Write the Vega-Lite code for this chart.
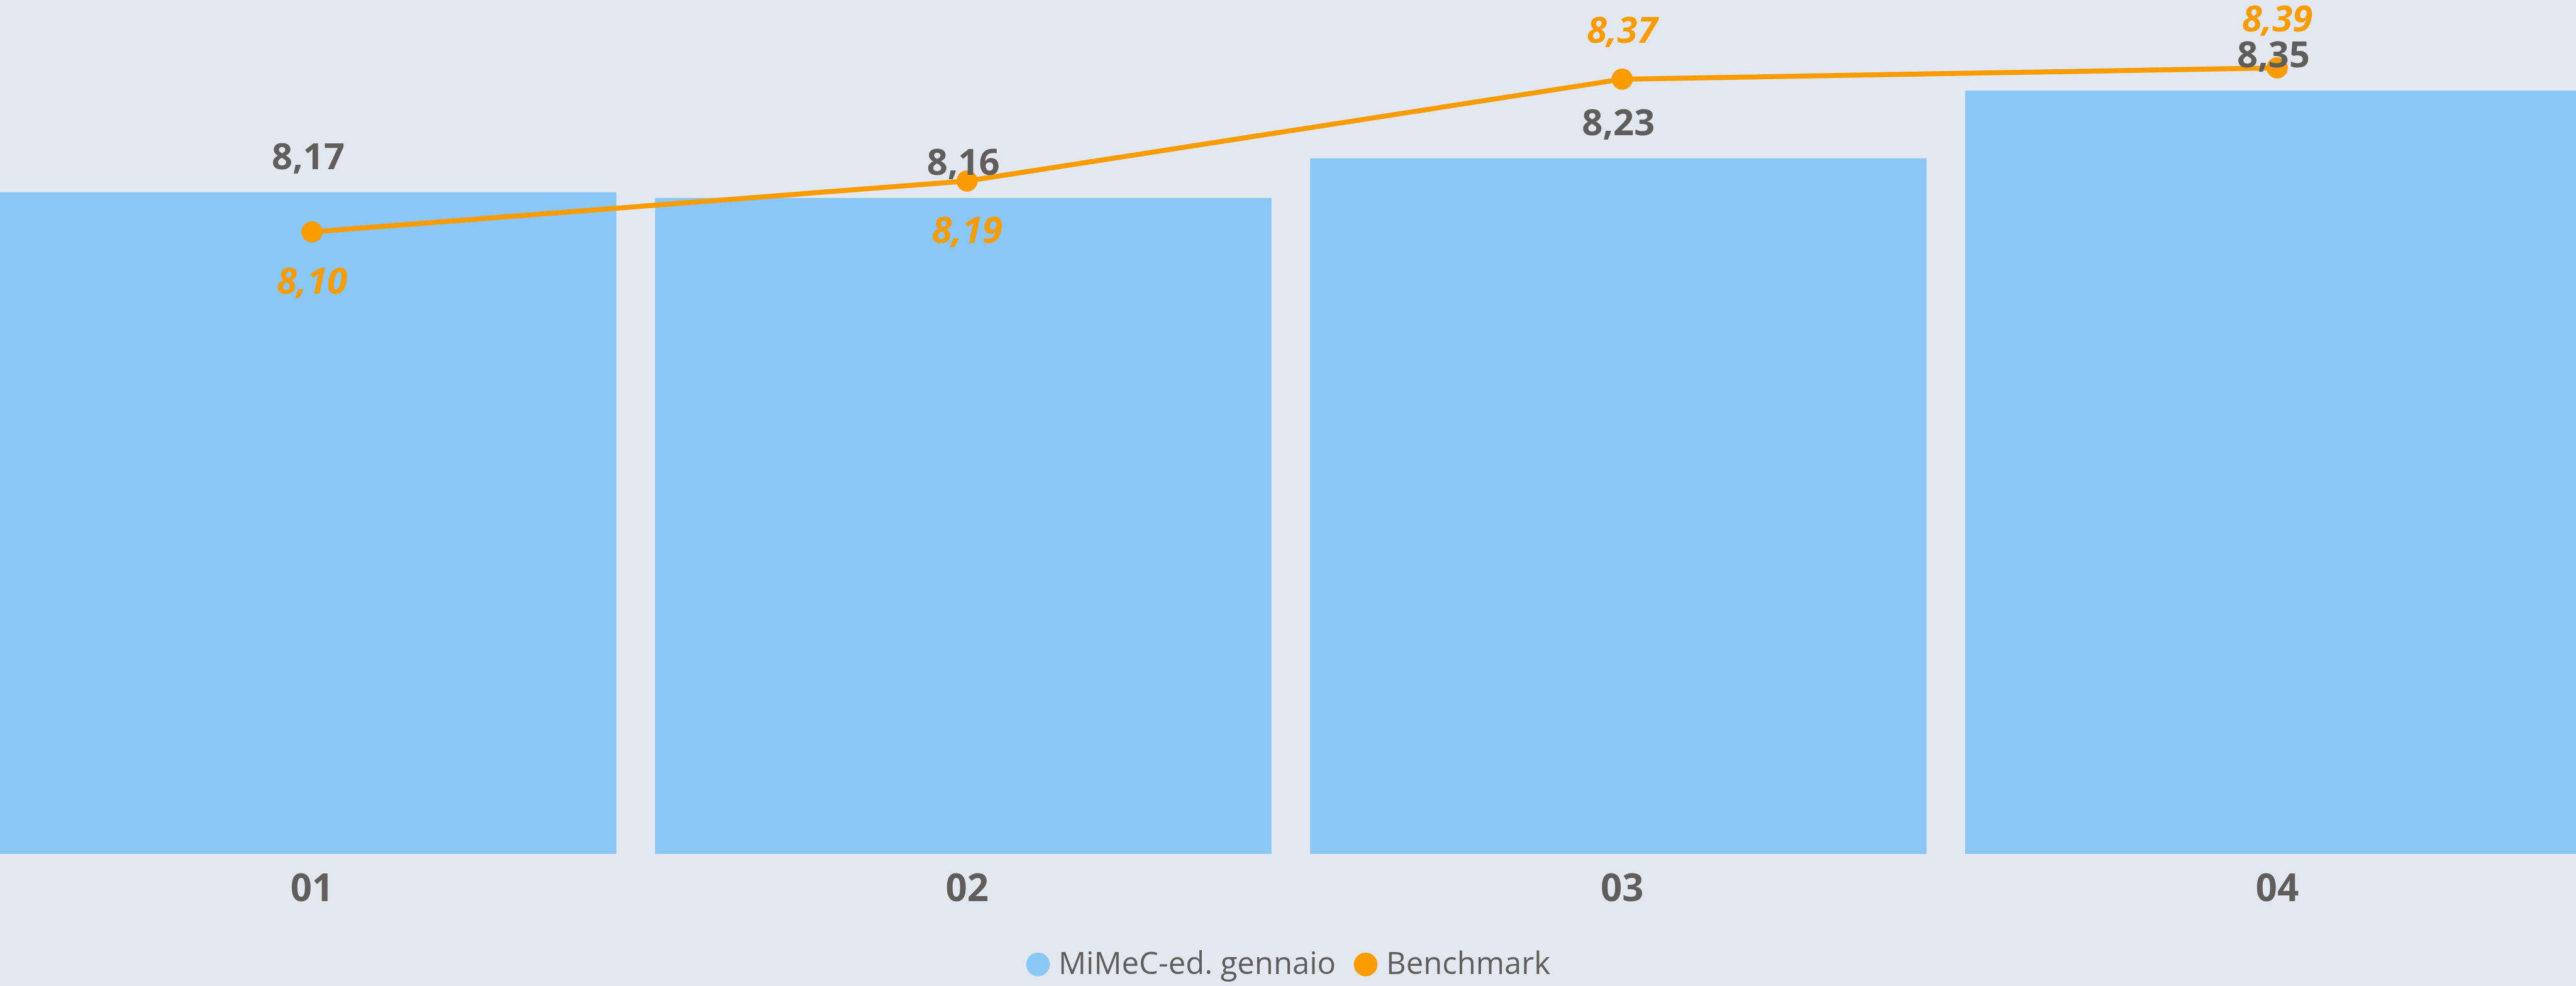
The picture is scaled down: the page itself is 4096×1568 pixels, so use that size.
{
  "$schema": "https://vega.github.io/schema/vega-lite/v6.json",
  "width": 4096,
  "height": 1358,
  "autosize": {"type": "none"},
  "padding": {"left": 0, "right": 0, "top": 0, "bottom": 210},
  "background": "#e3e8f0",
  "config": {
    "view": {"stroke": null},
    "font": "Open Sans",
    "locale": {"number": {"decimal": ",", "thousands": ".", "grouping": [3], "currency": ["", " €"]}}
  },
  "data": {
    "values": [
      {"month": "01", "value": 8.17, "benchmark": 8.10},
      {"month": "02", "value": 8.16, "benchmark": 8.19},
      {"month": "03", "value": 8.23, "benchmark": 8.37},
      {"month": "04", "value": 8.35, "benchmark": 8.39}
    ]
  },
  "encoding": {
    "x": {
      "field": "month",
      "type": "nominal",
      "sort": null,
      "scale": {"range": [0, 4105], "paddingInner": 0.059, "paddingOuter": 0},
      "axis": {
        "title": null,
        "labelAngle": 0,
        "domain": false,
        "ticks": false,
        "grid": false,
        "labelFont": "Open Sans",
        "labelFontSize": 60,
        "labelFontWeight": "bold",
        "labelColor": "#605E5C",
        "labelPadding": 27,
        "labelOffset": 6,
        "labelBaseline": "top",
        "labelOverlap": false,
        "zindex": 1
      }
    }
  },
  "layer": [
    {
      "mark": {"type": "bar"},
      "encoding": {
        "y": {"field": "value", "type": "quantitative", "scale": {"domain": [7, 8.51], "nice": false, "zero": false}, "axis": null},
        "y2": {"datum": 7},
        "color": {
          "datum": "MiMeC-ed. gennaio",
          "type": "nominal",
          "scale": {"domain": ["MiMeC-ed. gennaio", "Benchmark"], "range": ["#8AC6F6", "#FA9C00"]},
          "legend": {
            "orient": "none",
            "legendX": 1626,
            "legendY": 1509,
            "direction": "horizontal",
            "title": null,
            "symbolType": "circle",
            "symbolSize": 1420,
            "symbolStrokeWidth": 0,
            "symbolOpacity": 1,
            "labelFont": "Open Sans",
            "labelFontSize": 49,
            "labelColor": "#605E5C",
            "labelOffset": 8,
            "labelLimit": 2000,
            "columnPadding": 22
          }
        }
      }
    },
    {
      "mark": {"type": "line", "color": "#FA9C00", "strokeWidth": 8, "xOffset": 6},
      "encoding": {
        "y": {"field": "benchmark", "type": "quantitative"}
      }
    },
    {
      "mark": {"type": "point", "filled": true, "opacity": 1, "size": 1140, "xOffset": 6},
      "encoding": {
        "y": {"field": "benchmark", "type": "quantitative"},
        "color": {"datum": "Benchmark", "type": "nominal"}
      }
    },
    {
      "transform": [{"filter": "datum.month == '01' || datum.month == '02'"}],
      "mark": {"type": "text", "baseline": "alphabetic", "dy": 98, "dx": 6, "fontSize": 58, "fontWeight": "bold", "fontStyle": "italic", "color": "#FA9C00"},
      "encoding": {
        "y": {"field": "benchmark", "type": "quantitative"},
        "text": {"field": "benchmark", "type": "quantitative", "format": ".2f"}
      }
    },
    {
      "transform": [{"filter": "datum.month == '03' || datum.month == '04'"}],
      "mark": {"type": "text", "baseline": "alphabetic", "dy": -57.6, "dx": 6, "fontSize": 58, "fontWeight": "bold", "fontStyle": "italic", "color": "#FA9C00"},
      "encoding": {
        "y": {"field": "benchmark", "type": "quantitative"},
        "text": {"field": "benchmark", "type": "quantitative", "format": ".2f"}
      }
    },
    {
      "mark": {"type": "text", "baseline": "alphabetic", "dy": -36.7, "fontSize": 58, "fontWeight": "bold", "color": "#605E5C"},
      "encoding": {
        "y": {"field": "value", "type": "quantitative"},
        "text": {"field": "value", "type": "quantitative", "format": ".2f"}
      }
    }
  ]
}
